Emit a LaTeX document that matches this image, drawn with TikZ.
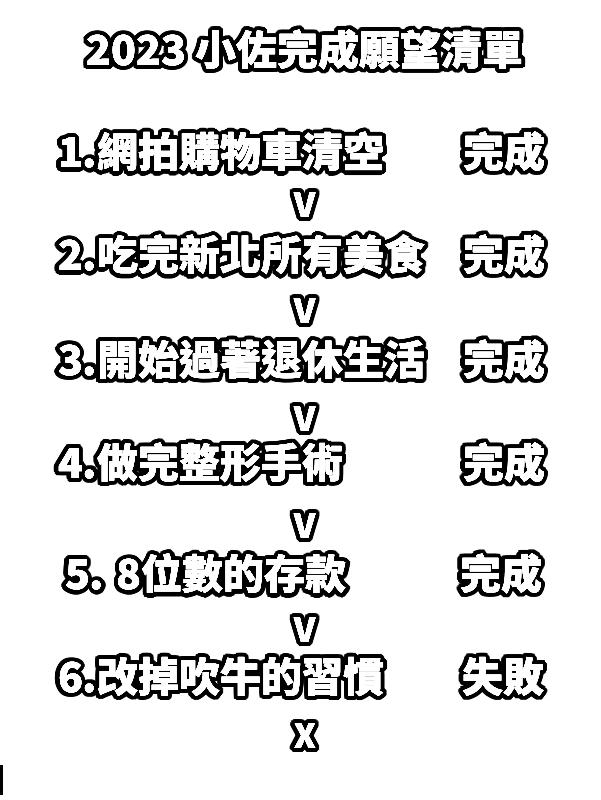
\documentclass[tikz,border=0pt]{standalone}
\usepackage{fontspec}
\IfFontExistsTF{Noto Sans CJK TC Black}
  {\newfontfamily\cjk{Noto Sans CJK TC Black}\def\thick{0pt}}
  {\IfFontExistsTF{Noto Sans CJK TC Bold}
    {\newfontfamily\cjk{Noto Sans CJK TC Bold}\def\thick{0.3pt}}
    {\newfontfamily\cjk{Noto Sans CJK TC}\def\thick{0.8pt}}}
\tikzset{
  lbl/.style={inner sep=0pt, outer sep=0pt, font=\cjk\fontsize{41}{41}\selectfont},
  vmark/.style={inner sep=0pt, outer sep=0pt, font=\cjk\fontsize{33}{33}\selectfont},
}
% #1 style, #2 name, #3 anchor, #4 x,y, #5 text
\newcommand\outl[5]{%
  \foreach \a in {0,12,...,348}{%
    \node[#1,text=black,anchor=#3] at ([shift={(\a:4.3pt)}]#4) {#5};}%
  \foreach \a in {0,30,...,330}{%
    \node[#1,text=black,anchor=#3] at ([shift={(\a:2.2pt)}]#4) {#5};}%
  \foreach \a in {0,45,...,315}{%
    \node[#1,text=white,anchor=#3] at ([shift={(\a:\thick)}]#4) {#5};}%
  \node[#1,text=white,anchor=#3] (#2) at (#4) {#5};}
\begin{document}
\begin{tikzpicture}[x=1pt,y=-1pt]
\useasboundingbox[fill=white] (0,0) rectangle (600,800);
\outl{lbl}{title}{center}{305,50}{2023 小佐完成願望清單}
\outl{lbl}{l1}{west}{58,152}{1.網拍購物車清空}
\outl{lbl}{s1}{west}{463,152}{完成}
\outl{vmark}{v1}{center}{305,205}{V}
\outl{lbl}{l2}{west}{58,255}{2.吃完新北所有美食}
\outl{lbl}{s2}{west}{463,255}{完成}
\outl{vmark}{v2}{center}{305,311}{V}
\outl{lbl}{l3}{west}{58,360}{3.開始過著退休生活}
\outl{lbl}{s3}{west}{463,360}{完成}
\outl{vmark}{v3}{center}{305,419}{V}
\outl{lbl}{l4}{west}{58,463}{4.做完整形手術}
\outl{lbl}{s4}{west}{463,463}{完成}
\outl{vmark}{v4}{center}{305,526}{V}
\outl{lbl}{l5}{west}{65,574}{5. 8位數的存款}
\outl{lbl}{s5}{west}{460,574}{完成}
\outl{vmark}{v5}{center}{305,630}{V}
\outl{lbl}{l6}{west}{58,677}{6.改掉吹牛的習慣}
\outl{lbl}{s6}{west}{462,677}{失敗}
\outl{vmark}{x6}{center}{305,736}{X}
\draw[line width=2.5pt] (1.5,765) -- (1.5,795);
\end{tikzpicture}
\end{document}
